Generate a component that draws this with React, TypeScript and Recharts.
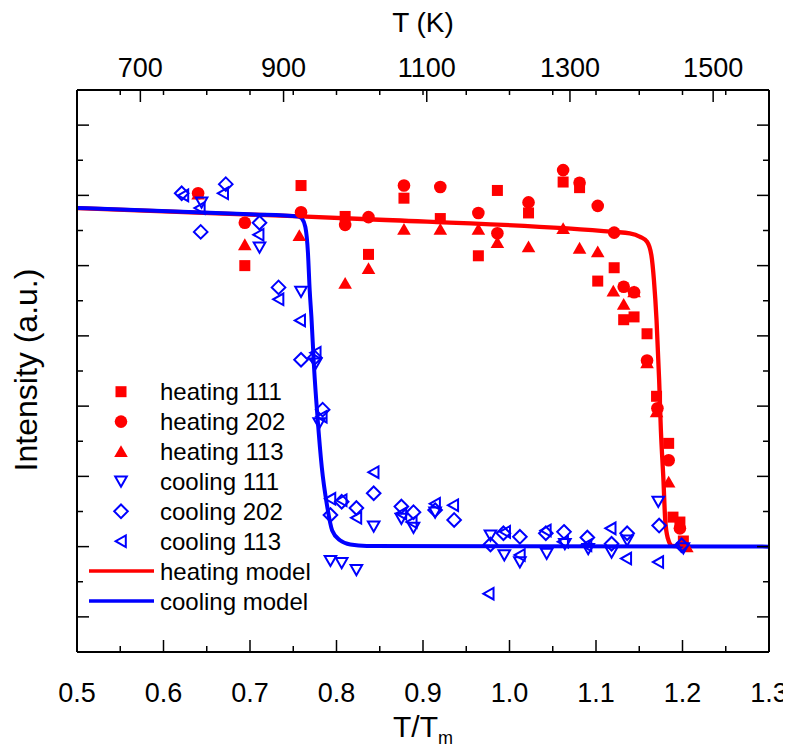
import React from 'react';
import { ComposedChart, Scatter, Line, XAxis, YAxis, Legend } from 'recharts';

const FONT = '"Liberation Sans", Arial, sans-serif';
const RED = '#ff0000';
const BLUE = '#0000ff';

// axis ticks
const ratioTicks = [0.5, 0.55, 0.6, 0.65, 0.7, 0.75, 0.8, 0.85, 0.9, 0.95, 1.0, 1.05, 1.1, 1.15, 1.2, 1.25, 1.3];
const kelvinTicks = [700, 900, 1100, 1300, 1500];
const kelvinDomain = [611.5, 1578];
const intensityTicks = [-1.5, -1, -0.5, 0, 0.5, 1, 1.5, 2, 2.5, 3, 3.5, 4, 4.5, 5, 5.5, 6, 6.5];

// measured points: [T/Tm, intensity]
const heating111 = [
  [0.694, 4.0], [0.759, 5.14], [0.81, 4.7], [0.837, 4.16], [0.878, 4.96], [0.92, 4.67], [0.964, 4.14],
  [0.986, 5.07], [1.022, 4.75], [1.062, 5.19], [1.081, 5.11], [1.102, 3.78], [1.121, 3.97], [1.132, 3.23],
  [1.144, 3.27], [1.159, 3.03], [1.17, 2.14], [1.184, 1.47], [1.189, 0.42], [1.197, 0.35], [1.201, 0.08],
];
const heating202 = [
  [0.64, 5.03], [0.694, 4.61], [0.759, 4.76], [0.81, 4.58], [0.837, 4.69], [0.878, 5.14], [0.92, 5.12],
  [0.964, 4.75], [0.986, 4.46], [1.022, 4.9], [1.062, 5.36], [1.081, 5.18], [1.102, 4.85], [1.121, 4.47],
  [1.132, 3.7], [1.144, 3.62], [1.159, 2.65], [1.171, 1.97], [1.184, 1.23], [1.197, 0.26],
];
const heating113 = [
  [0.64, 5.02], [0.694, 4.3], [0.757, 4.43], [0.81, 3.75], [0.837, 3.96], [0.878, 4.52], [0.92, 4.52],
  [0.964, 4.52], [0.986, 4.33], [1.022, 4.27], [1.062, 4.53], [1.081, 4.25], [1.102, 4.2], [1.12, 3.64],
  [1.132, 3.45], [1.144, 3.63], [1.159, 2.62], [1.17, 1.92], [1.184, 0.92], [1.205, 0.0],
];
const cooling111 = [
  [0.644, 4.9], [0.711, 4.26], [0.759, 3.63], [0.776, 2.61], [0.78, 1.76], [0.793, -0.2], [0.806, -0.23],
  [0.823, -0.33], [0.843, 0.29], [0.875, 0.4], [0.889, 0.27], [0.914, 0.49], [0.978, 0.16], [0.994, -0.12],
  [1.012, -0.22], [1.043, -0.1], [1.064, 0.04], [1.091, -0.03], [1.118, -0.08], [1.136, 0.09], [1.172, 0.64],
  [1.201, -0.02],
];
const cooling202 = [
  [0.621, 5.03], [0.643, 4.48], [0.672, 5.16], [0.711, 4.61], [0.733, 3.69], [0.759, 2.66], [0.775, 2.69],
  [0.784, 1.95], [0.793, 0.45], [0.806, 0.64], [0.823, 0.55], [0.843, 0.76], [0.875, 0.57], [0.889, 0.49],
  [0.914, 0.52], [0.936, 0.38], [0.978, 0.03], [0.993, 0.19], [1.012, 0.14], [1.042, 0.19], [1.063, 0.21],
  [1.09, 0.13], [1.118, 0.04], [1.136, 0.19], [1.173, 0.3], [1.199, 0.02],
];
const cooling113 = [
  [0.623, 5.0], [0.642, 4.82], [0.669, 5.03], [0.71, 4.44], [0.733, 3.52], [0.758, 3.22], [0.776, 2.76],
  [0.783, 1.85], [0.793, 0.68], [0.806, 0.66], [0.823, 0.41], [0.843, 1.06], [0.875, 0.47], [0.887, 0.35],
  [0.914, 0.61], [0.935, 0.59], [0.976, -0.67], [0.995, 0.21], [1.012, -0.12], [1.042, 0.23], [1.062, 0.07],
  [1.089, 0.02], [1.117, 0.26], [1.135, -0.17], [1.172, -0.22],
];

// model curves
const heatingModel = [
  [0.5, 4.82], [0.758, 4.7], [0.837, 4.66], [1.121, 4.48], [1.139, 4.46], [1.151, 4.41], [1.159, 4.34],
  [1.164, 4.15], [1.167, 3.79], [1.17, 3.22], [1.173, 2.37], [1.175, 1.66], [1.178, 0.94], [1.18, 0.38],
  [1.183, 0.12], [1.188, 0.01], [1.209, 0.0],
];
const coolingModel = [
  [0.5, 4.82], [0.7, 4.73], [0.756, 4.7], [0.76, 4.67], [0.764, 4.55], [0.767, 4.18], [0.769, 3.65],
  [0.771, 3.27], [0.774, 2.56], [0.778, 1.85], [0.783, 1.13], [0.789, 0.59], [0.795, 0.23], [0.804, 0.09],
  [0.816, 0.03], [0.835, 0.01], [1.3, 0.0],
];

const toRows = (pts: number[][]) => pts.map(([x, y]) => ({ x, y }));

// layout (chart coords)
const W = 783;
const H = 744;
const TOP_H = 82;
const BOTTOM_H = 100;
const LEFT_W = 69;
const RIGHT_W = 22;
const PLOT_H = H - TOP_H - BOTTOM_H;

const isMajor = (v: number) => Math.abs(v * 10 - Math.round(v * 10)) < 1e-6;
const isInt = (v: number) => Math.abs(v - Math.round(v)) < 1e-6;

const BottomTick = (props: any) => {
  const { x, y, payload } = props;
  const v = payload.value;
  const major = isMajor(v);
  return (
    <g>
      <line x1={x} y1={y} x2={x} y2={y - (major ? 12 : 6)} stroke="#000" strokeWidth={1.5} />
      <line x1={x} y1={y - PLOT_H} x2={x} y2={y - PLOT_H + 5} stroke="#000" strokeWidth={1.5} />
      {major && (
        <text x={x} y={y + 50} textAnchor="middle" fontSize={27} fontFamily={FONT} fill="#000">
          {v.toFixed(1)}
        </text>
      )}
    </g>
  );
};

const TopTick = (props: any) => {
  const { x, y, payload } = props;
  return (
    <g>
      <line x1={x} y1={y} x2={x} y2={y + 12} stroke="#000" strokeWidth={1.5} />
      <text x={x} y={y - 13} textAnchor="middle" fontSize={27} fontFamily={FONT} fill="#000">
        {payload.value}
      </text>
    </g>
  );
};

const LeftTick = (props: any) => {
  const { x, y, payload } = props;
  return <line x1={x} y1={y} x2={x + (isInt(payload.value) ? 12 : 6)} y2={y} stroke="#000" strokeWidth={1.5} />;
};

const RightTick = (props: any) => {
  const { x, y, payload } = props;
  return <line x1={x} y1={y} x2={x - (isInt(payload.value) ? 12 : 6)} y2={y} stroke="#000" strokeWidth={1.5} />;
};

// symbol shapes
const Square = ({ cx, cy }: any) => <rect x={cx - 5.5} y={cy - 5.5} width={11} height={11} fill={RED} />;
const Dot = ({ cx, cy }: any) => <circle cx={cx} cy={cy} r={6.3} fill={RED} />;
const TriUp = ({ cx, cy }: any) => (
  <polygon points={`${cx - 6.8},${cy + 5.6} ${cx + 6.8},${cy + 5.6} ${cx},${cy - 6.2}`} fill={RED} />
);
const TriDown = ({ cx, cy }: any) => (
  <polygon points={`${cx - 5.8},${cy - 4.8} ${cx + 5.8},${cy - 4.8} ${cx},${cy + 5.4}`} fill="none" stroke={BLUE} strokeWidth={2} />
);
const Diamond = ({ cx, cy }: any) => (
  <polygon points={`${cx},${cy - 6.8} ${cx + 6.8},${cy} ${cx},${cy + 6.8} ${cx - 6.8},${cy}`} fill="none" stroke={BLUE} strokeWidth={2} />
);
const TriLeft = ({ cx, cy }: any) => (
  <polygon points={`${cx + 4.8},${cy - 5.8} ${cx + 4.8},${cy + 5.8} ${cx - 5.4},${cy}`} fill="none" stroke={BLUE} strokeWidth={2} />
);
const Nothing = () => <g />;

const legendItems = [
  { label: 'heating 111', Shape: Square },
  { label: 'heating 202', Shape: Dot },
  { label: 'heating 113', Shape: TriUp },
  { label: 'cooling 111', Shape: TriDown },
  { label: 'cooling 202', Shape: Diamond },
  { label: 'cooling 113', Shape: TriLeft },
];

const LegendBox = () => (
  <svg width={260} height={250} style={{ display: 'block' }}>
    {legendItems.map(({ label, Shape }, i) => {
      const cy = 23.7 + 29.9 * i;
      return (
        <g key={label}>
          <Shape cx={44} cy={cy} />
          <text x={83} y={cy + 8.5} fontSize={24} fontFamily={FONT} fill="#000">{label}</text>
        </g>
      );
    })}
    {[
      { label: 'heating model', color: RED },
      { label: 'cooling model', color: BLUE },
    ].map(({ label, color }, i) => {
      const cy = 23.7 + 29.9 * (6 + i);
      return (
        <g key={label}>
          <line x1={12} y1={cy} x2={77} y2={cy} stroke={color} strokeWidth={3.5} />
          <text x={83} y={cy + 8.5} fontSize={24} fontFamily={FONT} fill="#000">{label}</text>
        </g>
      );
    })}
  </svg>
);

const frame = { stroke: '#000', strokeWidth: 2 };

export default function App() {
  return (
    <ComposedChart width={W} height={H} margin={{ top: 0, right: 0, bottom: 0, left: 0 }}>
      <XAxis
        xAxisId="x"
        dataKey="x"
        type="number"
        domain={[0.5, 1.3]}
        allowDataOverflow
        ticks={ratioTicks}
        interval={0}
        height={BOTTOM_H}
        tickSize={0}
        tickMargin={0}
        axisLine={frame}
        tick={BottomTick}
        label={{
          content: () => (
            <text x={415} y={729} textAnchor="middle" fontSize={30} fontFamily={FONT} fill="#000">
              T/T<tspan fontSize={18} dy={7}>m</tspan>
            </text>
          ),
        }}
      />
      <XAxis
        xAxisId="t"
        dataKey="x"
        orientation="top"
        type="number"
        domain={kelvinDomain}
        allowDataOverflow
        ticks={kelvinTicks}
        interval={0}
        height={TOP_H}
        tickSize={0}
        tickMargin={0}
        axisLine={frame}
        tick={TopTick}
        label={{
          content: () => (
            <text x={415} y={24} textAnchor="middle" fontSize={28} fontFamily={FONT} fill="#000">
              T (K)
            </text>
          ),
        }}
      />
      <YAxis
        yAxisId="y"
        dataKey="y"
        type="number"
        domain={[-1.5, 6.5]}
        allowDataOverflow
        ticks={intensityTicks}
        interval={0}
        width={LEFT_W}
        tickSize={0}
        tickMargin={0}
        axisLine={frame}
        tick={LeftTick}
        label={{
          content: () => (
            <text
              x={29}
              y={362}
              transform="rotate(-90, 29, 362)"
              textAnchor="middle"
              fontSize={32}
              fontFamily={FONT}
              fill="#000"
            >
              Intensity (a.u.)
            </text>
          ),
        }}
      />
      <YAxis
        yAxisId="r"
        orientation="right"
        type="number"
        domain={[-1.5, 6.5]}
        allowDataOverflow
        ticks={intensityTicks}
        interval={0}
        width={RIGHT_W}
        tickSize={0}
        tickMargin={0}
        axisLine={frame}
        tick={RightTick}
      />

      {/* invisible series so the temperature axis gets a scale */}
      <Scatter
        xAxisId="t"
        yAxisId="y"
        data={kelvinDomain.map((x) => ({ x, y: 0 }))}
        shape={Nothing}
        legendType="none"
        isAnimationActive={false}
      />

      <Line
        xAxisId="x"
        yAxisId="y"
        name="heating model"
        data={toRows(heatingModel)}
        dataKey="y"
        type="monotone"
        stroke={RED}
        strokeWidth={4.3}
        dot={false}
        isAnimationActive={false}
      />
      <Scatter xAxisId="x" yAxisId="y" name="heating 111" data={toRows(heating111)} shape={Square} isAnimationActive={false} />
      <Scatter xAxisId="x" yAxisId="y" name="heating 202" data={toRows(heating202)} shape={Dot} isAnimationActive={false} />
      <Scatter xAxisId="x" yAxisId="y" name="heating 113" data={toRows(heating113)} shape={TriUp} isAnimationActive={false} />
      <Scatter xAxisId="x" yAxisId="y" name="cooling 111" data={toRows(cooling111)} shape={TriDown} isAnimationActive={false} />
      <Scatter xAxisId="x" yAxisId="y" name="cooling 202" data={toRows(cooling202)} shape={Diamond} isAnimationActive={false} />
      <Scatter xAxisId="x" yAxisId="y" name="cooling 113" data={toRows(cooling113)} shape={TriLeft} isAnimationActive={false} />
      <Line
        xAxisId="x"
        yAxisId="y"
        name="cooling model"
        data={toRows(coolingModel)}
        dataKey="y"
        type="monotone"
        stroke={BLUE}
        strokeWidth={4}
        dot={false}
        isAnimationActive={false}
      />

      <Legend
        layout="horizontal"
        align="center"
        verticalAlign="middle"
        content={() => <LegendBox />}
        wrapperStyle={{ left: 69, top: 360, width: 260, height: 250 }}
      />
    </ComposedChart>
  );
}
